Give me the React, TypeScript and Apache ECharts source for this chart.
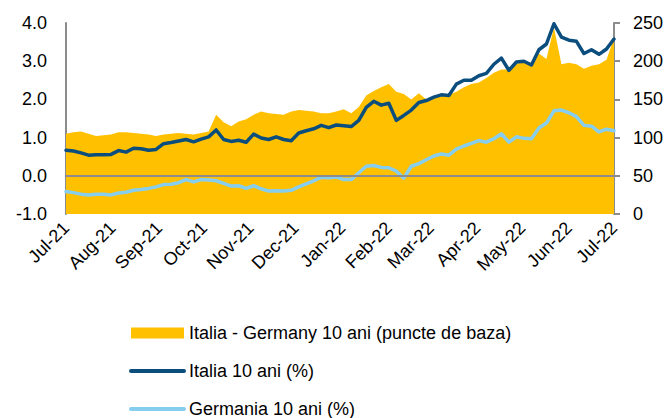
import React, { useEffect, useRef } from "react";
import * as echarts from "echarts";

// One observation every 5 days from 1 Jul 2021 to 1 Jul 2022
const dates: number[] = Array.from({ length: 74 }, (_, i) => new Date(2021, 6, 1 + 5 * i).getTime());

const italia10: number[] = [
  0.67, 0.65, 0.60, 0.54, 0.55, 0.55, 0.56, 0.66, 0.62, 0.72,
  0.71, 0.67, 0.69, 0.84, 0.87, 0.91, 0.95, 0.89, 0.96, 1.02,
  1.20, 0.95, 0.90, 0.93, 0.88, 1.09, 0.99, 0.95, 1.02, 0.95,
  0.92, 1.12, 1.18, 1.23, 1.32, 1.26, 1.33, 1.31, 1.29, 1.45,
  1.79, 1.95, 1.85, 1.90, 1.45, 1.58, 1.72, 1.92, 1.97, 2.06,
  2.12, 2.10, 2.40, 2.50, 2.50, 2.62, 2.68, 2.92, 3.08, 2.76,
  2.98, 3.00, 2.90, 3.30, 3.45, 3.98, 3.63, 3.55, 3.52, 3.20,
  3.30, 3.18, 3.32, 3.58,
];

const germania10: number[] = [
  -0.41, -0.44, -0.48, -0.50, -0.48, -0.48, -0.50, -0.45, -0.43, -0.38,
  -0.36, -0.33, -0.29, -0.23, -0.22, -0.18, -0.10, -0.16, -0.10, -0.11,
  -0.13, -0.20, -0.27, -0.26, -0.33, -0.26, -0.34, -0.40, -0.39, -0.40,
  -0.38, -0.29, -0.21, -0.13, -0.04, -0.05, -0.03, -0.10, -0.10, 0.08,
  0.25, 0.27, 0.22, 0.21, 0.12, -0.06, 0.25, 0.32, 0.42, 0.52,
  0.57, 0.54, 0.70, 0.78, 0.85, 0.92, 0.88, 0.97, 1.10, 0.88,
  1.02, 0.98, 0.97, 1.25, 1.38, 1.70, 1.72, 1.65, 1.55, 1.32,
  1.30, 1.15, 1.22, 1.18,
];

const spreadBps: number[] = [
  105, 107, 108, 105, 102, 103, 104, 107, 107, 106,
  105, 104, 102, 104, 105, 106, 105, 104, 106, 108,
  130, 120, 115, 121, 124, 130, 134, 132, 131, 130,
  134, 136, 135, 134, 132, 132, 134, 137, 132, 140,
  155, 161, 166, 170, 160, 157, 150, 158, 150, 152,
  154, 156, 160, 166, 170, 172, 178, 185, 189, 189,
  196, 200, 198, 210, 203, 244, 196, 198, 196, 190,
  194, 196, 202, 230,
];

const seriesNames = [
  "Italia - Germany 10 ani (puncte de baza)",
  "Italia 10 ani (%)",
  "Germania 10 ani (%)",
];
const monthNames = ["Jan", "Feb", "Mar", "Apr", "May", "Jun", "Jul", "Aug", "Sep", "Oct", "Nov", "Dec"];
const xMin = new Date(2021, 6, 1).getTime();
const xMax = new Date(2022, 6, 1).getTime();
const zeroLineRight = 50; // 0.0 on the left axis equals 50 on the right axis

const FONT = "'Liberation Sans', Arial, sans-serif";
const AXIS_GREY = "#8c8c8c";
const YELLOW = "#FFC000";
const DARK_BLUE = "#0B4E7E";
const LIGHT_BLUE = "#87CEEE";

export default function App() {
  const ref = useRef<HTMLDivElement>(null);
  useEffect(() => {
    if (!ref.current) return;
    const chart = echarts.init(ref.current, undefined, { renderer: "svg" });
    const day = 86400000;
    chart.setOption({
      animation: false,
      textStyle: { fontFamily: FONT },
      grid: { left: 66, right: 55, top: 23, bottom: 204 },
      xAxis: {
        type: "time",
        min: xMin,
        max: xMax,
        splitNumber: 12,
        minInterval: 28 * day,
        maxInterval: 31 * day,
        axisLine: { show: false },
        axisTick: { show: false },
        splitLine: { show: false },
        axisLabel: {
          rotate: 45,
          margin: 11,
          fontSize: 18,
          color: "#000",
          fontFamily: FONT,
          showMinLabel: true,
          showMaxLabel: true,
          hideOverlap: false,
          formatter: (v: number) => {
            const d = new Date(v);
            return monthNames[d.getMonth()] + "-" + String(d.getFullYear()).slice(2);
          },
        },
      },
      yAxis: [
        {
          type: "value",
          position: "left",
          min: -1,
          max: 4,
          interval: 1,
          axisLine: { show: true, lineStyle: { color: AXIS_GREY, width: 2 } },
          axisTick: { show: false },
          splitLine: { show: false },
          axisLabel: {
            fontSize: 18,
            margin: 19,
            color: "#000",
            fontFamily: FONT,
            formatter: (v: number) => v.toFixed(1),
          },
        },
        {
          type: "value",
          position: "right",
          min: 0,
          max: 250,
          interval: 50,
          axisLine: { show: true, lineStyle: { color: AXIS_GREY, width: 2 } },
          axisTick: { show: true, length: 6, lineStyle: { color: AXIS_GREY, width: 2 } },
          splitLine: { show: false },
          axisLabel: { fontSize: 18, margin: 19, color: "#000", fontFamily: FONT },
        },
      ],
      legend: {
        orient: "vertical",
        left: 124,
        top: 319,
        height: 300,
        itemWidth: 53,
        itemHeight: 11,
        itemGap: 20,
        textStyle: { fontSize: 18, color: "#000", fontFamily: FONT },
        data: [
          { name: seriesNames[0], icon: "rect" },
          {
            name: seriesNames[1],
            itemStyle: { opacity: 0 },
            lineStyle: { width: 4, cap: "round", color: DARK_BLUE },
          },
          {
            name: seriesNames[2],
            itemStyle: { opacity: 0 },
            lineStyle: { width: 4, cap: "round", color: LIGHT_BLUE },
          },
        ],
      },
      series: [
        {
          name: seriesNames[0],
          type: "line",
          yAxisIndex: 1,
          color: YELLOW,
          symbol: "none",
          z: 1,
          lineStyle: { width: 0 },
          areaStyle: { color: YELLOW, opacity: 1 },
          data: dates.map((d, i) => [d, spreadBps[i]]),
          markLine: {
            silent: true,
            symbol: "none",
            label: { show: false },
            lineStyle: { color: AXIS_GREY, width: 2, type: "solid" },
            data: [{ yAxis: zeroLineRight }],
          },
        },
        {
          name: seriesNames[1],
          type: "line",
          yAxisIndex: 0,
          color: DARK_BLUE,
          symbol: "none",
          z: 3,
          lineStyle: { width: 3.5, color: DARK_BLUE, cap: "round", join: "round" },
          data: dates.map((d, i) => [d, italia10[i]]),
        },
        {
          name: seriesNames[2],
          type: "line",
          yAxisIndex: 0,
          color: LIGHT_BLUE,
          symbol: "none",
          z: 3,
          lineStyle: { width: 3.5, color: LIGHT_BLUE, cap: "round", join: "round" },
          data: dates.map((d, i) => [d, germania10[i]]),
        },
      ],
    });
    return () => chart.dispose();
  }, []);
  return (
    <div
      ref={ref}
      style={{ position: "fixed", left: 0, top: 0, width: 669, height: 418, background: "#fff" }}
    />
  );
}
